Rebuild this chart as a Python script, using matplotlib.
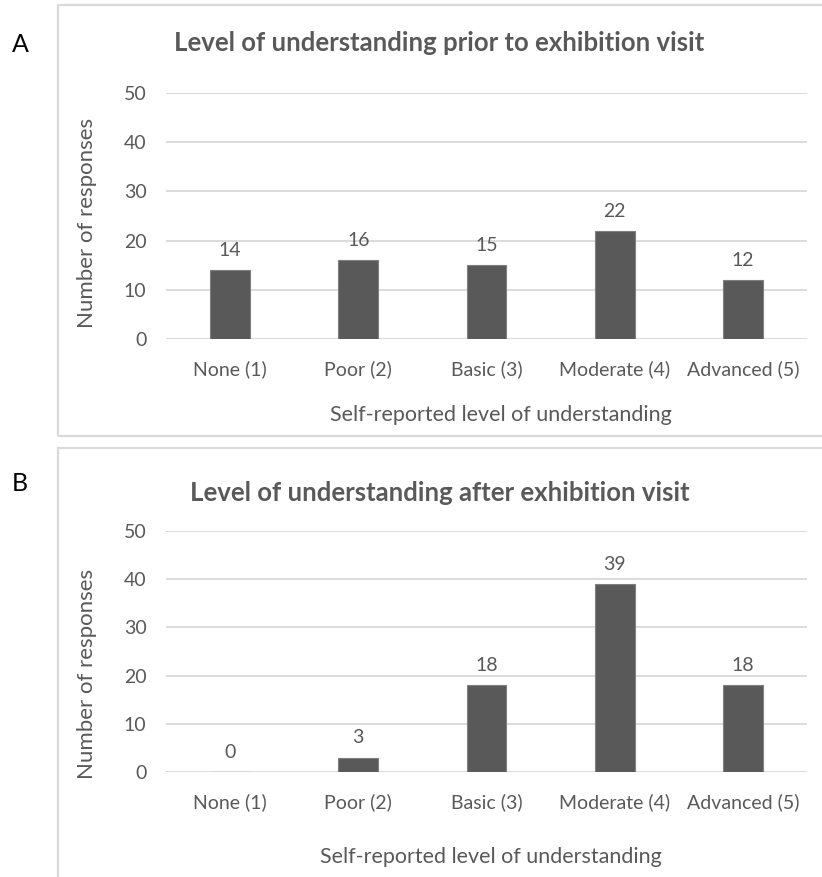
import matplotlib
matplotlib.use("Agg")
import matplotlib.pyplot as plt
from matplotlib.patches import Rectangle

plt.rcParams['font.family'] = ['Lato', 'DejaVu Sans']

categories = ["None (1)", "Poor (2)", "Basic (3)", "Moderate (4)", "Advanced (5)"]
before_visit = [14, 16, 15, 22, 12]
after_visit = [0, 3, 18, 39, 18]
titles = ["Level of understanding prior to exhibition visit",
          "Level of understanding after exhibition visit"]
panel_letters = ["A", "B"]
yticks = [0, 10, 20, 30, 40, 50]

W, H = 822, 877
fig = plt.figure(figsize=(W / 100, H / 100), dpi=100)

TXT = "#595959"
BAR = "#595959"
GRID = "#d9d9d9"


def fx(px):
    return px / W


def fy(py):
    return 1 - py / H


# panel frames (px: left, top, right, bottom)
frames = [(58, 5, 840, 436), (58, 448, 840, 890)]
for (l, t, r, b) in frames:
    fig.add_artist(Rectangle((fx(l), fy(b)), fx(r) - fx(l), fy(t) - fy(b),
                             transform=fig.transFigure, fill=False,
                             edgecolor="#d9d9d9", linewidth=1.6, clip_on=False))

# axes geometry in px: left, right, y of 50, y of 0
axes_px = [(166, 807, 93, 339), (166, 807, 531, 772)]
title_y = [43, 493]
letter_y = [44, 484]
xlabel_y = [415, 857]
ylabel_y = [223, 674]
ylabel_x = 87
datasets = [before_visit, after_visit]

for i in range(2):
    l, r, t, b = axes_px[i]
    ax = fig.add_axes([fx(l), fy(b), fx(r) - fx(l), fy(t) - fy(b)])
    vals = datasets[i]
    xs = list(range(len(categories)))
    ax.bar(xs, vals, width=0.31, color=BAR, edgecolor="#7f7f7f",
           linewidth=0.8, zorder=3)
    for x, v in zip(xs, vals):
        ax.annotate(str(v), (x, v), xytext=(0, 8), textcoords="offset points",
                    ha="center", va="bottom", fontsize=14, color=TXT)
    ax.set_xlim(-0.5, 4.5)
    ax.set_ylim(0, 50)
    ax.set_yticks(yticks)
    ax.set_xticks(xs)
    ax.set_xticklabels(categories)
    ax.yaxis.grid(True, color=GRID, linewidth=1.3, zorder=0)
    ax.set_axisbelow(True)
    for s in ax.spines.values():
        s.set_visible(False)
    ax.tick_params(axis="both", length=0, labelsize=14, colors=TXT)
    ax.tick_params(axis="y", pad=14)
    ax.tick_params(axis="x", pad=15)

    fig.text(fx((l + r) / 2 - 47), fy(title_y[i]), titles[i], ha="center",
             va="center", fontsize=18.5, fontweight="bold", color=TXT)
    fig.text(fx(20), fy(letter_y[i]), panel_letters[i], ha="center",
             va="center", fontsize=18, color="black")
    fig.text(fx((l + r) / 2 + 14 - 10 * i), fy(xlabel_y[i]),
             "Self-reported level of understanding", ha="center",
             va="center", fontsize=15.5, color=TXT)
    fig.text(fx(ylabel_x), fy(ylabel_y[i]), "Number of responses",
             ha="center", va="center", rotation=90, fontsize=16, color=TXT)

fig.savefig("out.png", dpi=100, facecolor="white")
